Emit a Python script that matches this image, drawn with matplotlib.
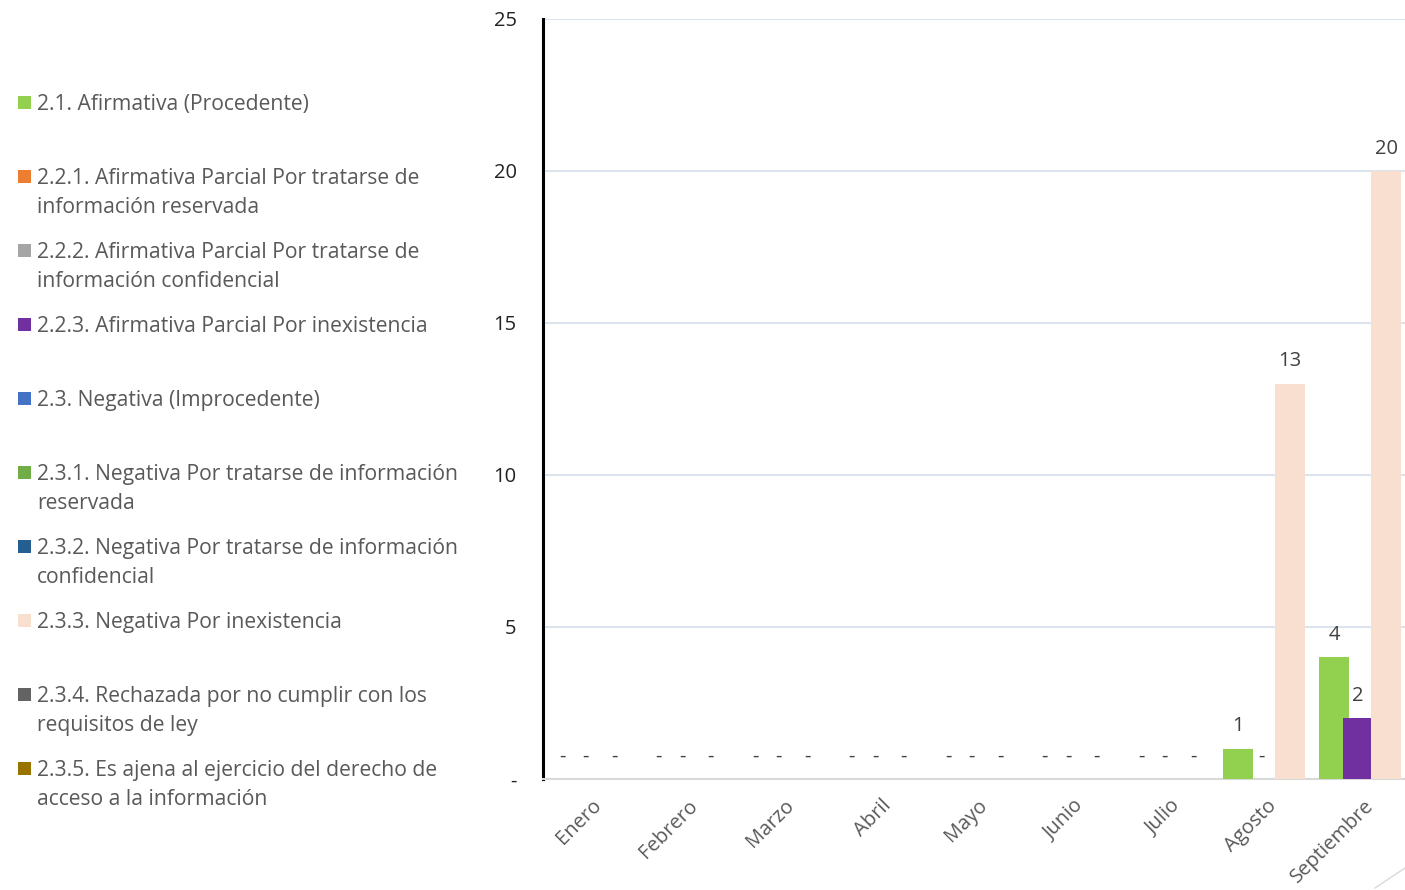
import numpy as np
import matplotlib.pyplot as plt
from matplotlib.patches import Rectangle
from matplotlib.lines import Line2D

meses = ["Enero", "Febrero", "Marzo", "Abril", "Mayo", "Junio", "Julio",
         "Agosto", "Septiembre"]

# only three series carry data; the rest of the legend entries are empty
afirmativa = [0, 0, 0, 0, 0, 0, 0, 1, 4]
parcial_inexistencia = [0, 0, 0, 0, 0, 0, 0, 0, 2]
negativa_inexistencia = [0, 0, 0, 0, 0, 0, 0, 13, 20]

leyenda = [
    "2.1. Afirmativa (Procedente)",
    "2.2.1. Afirmativa Parcial Por tratarse de\ninformación reservada",
    "2.2.2. Afirmativa Parcial Por tratarse de\ninformación confidencial",
    "2.2.3. Afirmativa Parcial Por inexistencia",
    "2.3. Negativa (Improcedente)",
    "2.3.1. Negativa Por tratarse de información\nreservada",
    "2.3.2. Negativa Por tratarse de información\nconfidencial",
    "2.3.3. Negativa Por inexistencia",
    "2.3.4. Rechazada por no cumplir con los\nrequisitos de ley",
    "2.3.5. Es ajena al ejercicio del derecho de\nacceso a la información",
]
colores = ["#92d050", "#ed7d31", "#a5a5a5", "#7030a0", "#4472c4",
           "#70ad47", "#255e91", "#f9dfcf", "#636363", "#997300"]

plt.rcParams['font.family'] = ['Open Sans', 'DejaVu Sans']
gris = "#595959"

fig = plt.figure(figsize=(14.05, 8.9), dpi=100)
ax = fig.add_axes([543 / 1405, 1 - 779 / 890, 1 - 543 / 1405, 760 / 890])

x = np.arange(len(meses))
ancho = 0.31
series = [(afirmativa, -0.303, colores[0]),
          (parcial_inexistencia, -0.06, colores[3]),
          (negativa_inexistencia, 0.236, colores[7])]
for valores, desp, color in series:
    barras = ax.bar(x + desp, valores, ancho, color=color, zorder=3)
    for b, v in zip(barras, valores):
        ax.annotate(str(v) if v else "-",
                    (b.get_x() + b.get_width() / 2, v),
                    xytext=(0, 9), textcoords="offset points",
                    ha="center", va="bottom", fontsize=14.5, color="#404040")

ax.set_xlim(-0.5, 8.43)
ax.set_ylim(0, 25)
ax.set_yticks([0, 5, 10, 15, 20, 25])
ax.set_yticklabels(["-", "5", "10", "15", "20", "25"])
ax.yaxis.grid(True, color="#dce5ee", linewidth=1.5, zorder=0)
ax.set_xticks(x)
ax.set_xticklabels(meses, rotation=45, ha="right", va="top",
                   rotation_mode="anchor")
ax.tick_params(axis="x", length=0, pad=12, labelsize=14.5, labelcolor=gris)
ax.tick_params(axis="y", length=0, pad=19, labelsize=14.5, labelcolor="#222222")
ax.spines["top"].set_visible(False)
ax.spines["right"].set_visible(False)
ax.spines["left"].set_color("black")
ax.spines["left"].set_linewidth(2.2)
ax.spines["bottom"].set_color("#d9d9d9")
ax.spines["bottom"].set_linewidth(1.5)

# legend drawn by hand: fixed 74 px slots
for i, (txt, col) in enumerate(zip(leyenda, colores)):
    y = 103 + 74 * i
    fig.patches.append(Rectangle((18 / 1405, 1 - (y + 6) / 890), 13 / 1405,
                                 13 / 890, transform=fig.transFigure,
                                 facecolor=col, edgecolor="none"))
    fig.text(37 / 1405, 1 - (y - 9) / 890, txt, fontsize=15.2, color=gris,
             va="top", ha="left", linespacing=1.5)

fig.lines.append(Line2D([1375 / 1405, 1405 / 1405], [2 / 890, 22 / 890],
                        transform=fig.transFigure, color="#d9d9d9", lw=1))

fig.savefig("out.png", dpi=100)
